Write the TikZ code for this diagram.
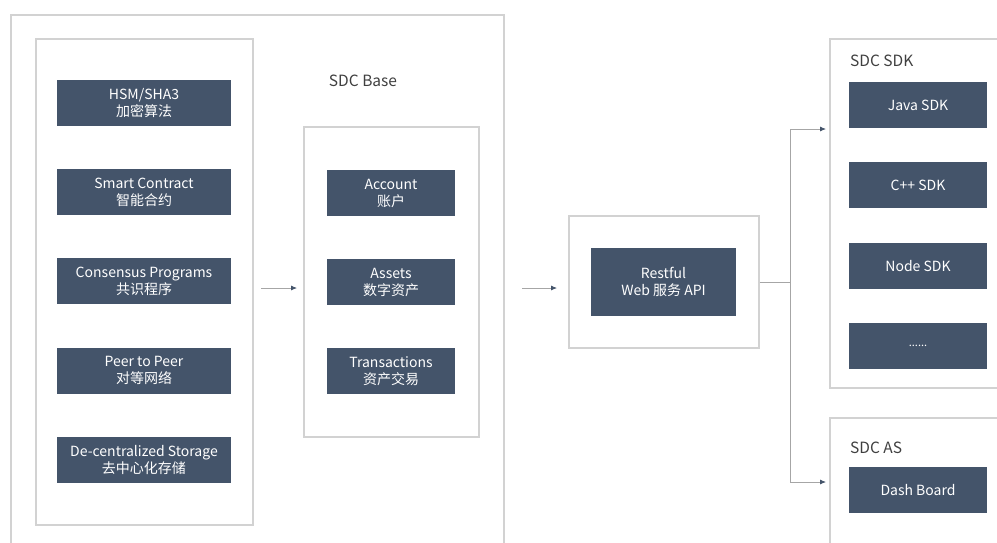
\documentclass[tikz,border=0pt]{standalone}
\usepackage{fontspec}
\setmainfont{Noto Sans CJK SC}
\usetikzlibrary{positioning,arrows.meta}
\definecolor{slate}{HTML}{44546A}
\definecolor{framegray}{HTML}{D2D2D2}
\definecolor{linegray}{HTML}{A6A6A6}
\definecolor{labelgray}{HTML}{404040}

\begin{document}
\begin{tikzpicture}[x=1pt,y=-1pt,
    block/.style={fill=slate,text=white,align=center,inner sep=0pt,outer sep=0pt,
        minimum height=46pt,font=\fontsize{14}{17}\selectfont},
    frame/.style={draw=framegray,line width=1.2pt,inner sep=0pt},
    title/.style={text=labelgray,font=\fontsize{15.5}{18}\selectfont,inner sep=0pt},
    link/.style={draw=linegray,line width=0.8pt},
    arrow/.style={link,-{Latex[length=6pt,width=5pt,color=slate]}}]
  \clip (0,0) rectangle (997,542);
  \fill[white] (0,0) rectangle (997,542);
  %%%%% SDC BASE
  \node[frame,minimum width=493pt,minimum height=533pt] (outer) at (257.5,281.5) {};
  \node[frame,minimum width=217pt,minimum height=486pt] (stack) at (144.5,282) {};
  \node[block,minimum width=174pt] (hsm) at (144,103) {HSM/SHA3\\加密算法};
  \node[block,minimum width=174pt,below=43.2pt of hsm] (contract) {Smart Contract\\智能合约};
  \node[block,minimum width=174pt,below=43.2pt of contract] (consensus) {Consensus Programs\\共识程序};
  \node[block,minimum width=174pt,below=43.2pt of consensus] (peer) {Peer to Peer\\对等网络};
  \node[block,minimum width=174pt,below=43.2pt of peer] (storage) {De-centralized Storage\\去中心化存储};
  \node[title] (basetitle) at (363,81) {SDC Base};
  \node[frame,minimum width=175pt,minimum height=310pt] (base) at (391.5,282) {};
  \node[block,minimum width=128pt] (account) at (391,193) {Account\\账户};
  \node[block,minimum width=128pt,below=43pt of account] (assets) {Assets\\数字资产};
  \node[block,minimum width=128pt,below=43pt of assets] (trans) {Transactions\\资产交易};
  %%%%% RESTFUL API
  \node[frame,minimum width=190pt,minimum height=132pt] (api) at (664,282) {};
  \node[block,minimum width=145pt,minimum height=68pt] (rest) at (663.5,282) {Restful\\Web 服务 API};
  %%%%% SDC SDK
  \node[frame,minimum width=180pt,minimum height=349pt] (sdk) at (920,213.5) {};
  \node[title,anchor=west] (sdktitle) at (850,61) {SDC SDK};
  \node[block,minimum width=138pt] (java) at (918,105) {Java SDK};
  \node[block,minimum width=138pt,below=34.3pt of java] (cpp) {C++ SDK};
  \node[block,minimum width=138pt,below=34.3pt of cpp] (nodesdk) {Node SDK};
  \node[block,minimum width=138pt,below=34.3pt of nodesdk,font=\fontsize{11}{13}\selectfont] (more) {......};
  %%%%% SDC AS
  \node[frame,minimum width=180pt,minimum height=142pt] (as) at (920,489) {};
  \node[title,anchor=west] (astitle) at (850,448) {SDC AS};
  \node[block,minimum width=138pt] (dash) at (918,490) {Dash Board};
  %%%% LINKS
  \coordinate (a1) at (261,288);
  \coordinate (b1) at (297,288);
  \coordinate (a2) at (522,288);
  \coordinate (b2) at (557,288);
  \coordinate (fork) at (790,282);
  \coordinate (sdkin) at (826,129);
  \coordinate (asin) at (826,482);
  \draw[arrow] (a1) -- (b1);
  \draw[arrow] (a2) -- (b2);
  \draw[link] (api.east) -- (fork);
  \draw[arrow] (fork) |- (sdkin);
  \draw[arrow] (fork) |- (asin);
\end{tikzpicture}
\end{document}
